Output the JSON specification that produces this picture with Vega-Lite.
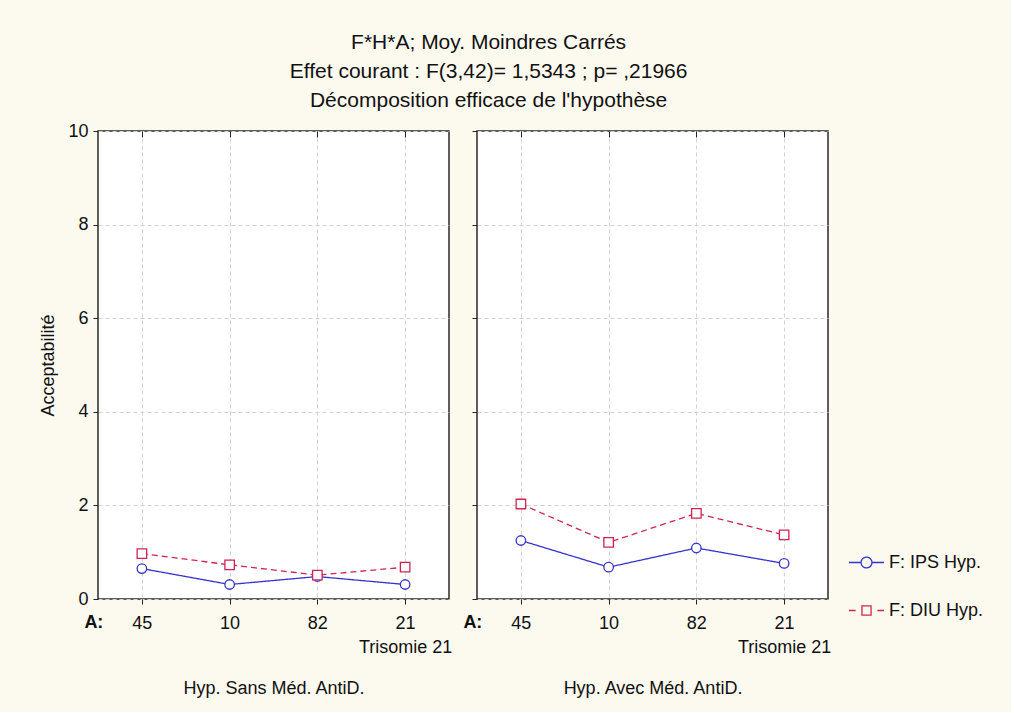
{
  "$schema": "https://vega.github.io/schema/vega-lite/v6.json",
  "background": "#fcf9ee",
  "padding": {"left": 39, "top": 32, "right": 27, "bottom": 14},
  "title": {
    "text": ["F*H*A; Moy. Moindres Carrés", "Effet courant : F(3,42)= 1,5343 ; p= ,21966", "Décomposition efficace de l'hypothèse"],
    "font": "Liberation Sans", "fontSize": 21, "fontWeight": "normal", "lineHeight": 29, "color": "#111", "anchor": "middle", "offset": 10, "dx": -23
  },
  "datasets": {
    "means": [
      {"H": "Sans", "A": "45", "F": "IPS Hyp.", "v": 0.65},
      {"H": "Sans", "A": "10", "F": "IPS Hyp.", "v": 0.31},
      {"H": "Sans", "A": "82", "F": "IPS Hyp.", "v": 0.48},
      {"H": "Sans", "A": "21", "F": "IPS Hyp.", "v": 0.31},
      {"H": "Sans", "A": "45", "F": "DIU Hyp.", "v": 0.97},
      {"H": "Sans", "A": "10", "F": "DIU Hyp.", "v": 0.73},
      {"H": "Sans", "A": "82", "F": "DIU Hyp.", "v": 0.51},
      {"H": "Sans", "A": "21", "F": "DIU Hyp.", "v": 0.68},
      {"H": "Avec", "A": "45", "F": "IPS Hyp.", "v": 1.25},
      {"H": "Avec", "A": "10", "F": "IPS Hyp.", "v": 0.68},
      {"H": "Avec", "A": "82", "F": "IPS Hyp.", "v": 1.09},
      {"H": "Avec", "A": "21", "F": "IPS Hyp.", "v": 0.76},
      {"H": "Avec", "A": "45", "F": "DIU Hyp.", "v": 2.03},
      {"H": "Avec", "A": "10", "F": "DIU Hyp.", "v": 1.21},
      {"H": "Avec", "A": "82", "F": "DIU Hyp.", "v": 1.83},
      {"H": "Avec", "A": "21", "F": "DIU Hyp.", "v": 1.37}
    ],
    "alab": [{"lab": "A:"}]
  },
  "spacing": 9,
  "hconcat": [
    {
      "width": 351, "height": 468,
      "resolve": {"axis": {"x": "independent"}},
      "layer": [
        {
          "data": {"name": "means"},
          "transform": [{"filter": "datum.H == 'Sans'"}],
          "mark": {"type": "line", "strokeWidth": 1.3},
          "encoding": {
            "x": {"field": "A", "type": "nominal", "sort": ["45", "10", "82", "21"],
              "scale": {"type": "point", "padding": 0.5},
              "axis": {"title": "Hyp. Sans Méd.  AntiD.", "labelAngle": 0, "grid": true,
                "labelExpr": "datum.value == '21' ? ['21', 'Trisomie 21'] : datum.value"}},
            "y": {"field": "v", "type": "quantitative", "scale": {"domain": [0, 10], "nice": false},
              "axis": {"title": "Acceptabilité", "values": [0, 2, 4, 6, 8, 10], "grid": true}},
            "color": {"field": "F", "type": "nominal", "sort": ["IPS Hyp.", "DIU Hyp."],
              "scale": {"domain": ["IPS Hyp.", "DIU Hyp."], "range": ["#3434cc", "#d02450"]},
              "legend": {
                "title": null, "orient": "none", "legendX": 750, "legendY": 413,
                "symbolSize": 1225, "symbolStrokeWidth": 1.3, "rowPadding": 20,
                "labelFont": "Liberation Sans", "labelFontSize": 18, "labelColor": "#111", "labelOffset": 4,
                "labelExpr": "'F: ' + datum.label",
                "encode": {"symbols": {"update": {
                  "shape": {"signal": "datum.value == 'IPS Hyp.' ? 'M-1,0H-0.31M0.31,0H1M-0.31,0A0.31,0.31 0 1,1 0.31,0A0.31,0.31 0 1,1 -0.31,0' : 'M-1,0H-0.62M0.62,0H1M-0.26,-0.26H0.26V0.26H-0.26Z'"},
                  "fill": {"value": "transparent"},
                  "strokeDash": {"value": [1, 0]}
                }}}
              }},
            "strokeDash": {"condition": {"test": "datum.F == 'IPS Hyp.'", "value": [1, 0]}, "value": [6, 4]}
          }
        },
        {
          "data": {"name": "means"},
          "transform": [{"filter": "datum.H == 'Sans'"}],
          "mark": {"type": "point", "filled": false, "fill": "white", "strokeWidth": 1.3, "opacity": 1},
          "encoding": {
            "x": {"field": "A", "type": "nominal", "sort": ["45", "10", "82", "21"],
              "axis": {"orient": "top", "labels": false, "title": null, "grid": false, "tickSize": -6}},
            "y": {"field": "v", "type": "quantitative"},
            "color": {"field": "F", "type": "nominal", "legend": null},
            "shape": {"condition": {"test": "datum.F == 'IPS Hyp.'", "value": "circle"}, "value": "square"},
            "size": {"value": 90}
          }
        },
        {
          "data": {"name": "alab"},
          "mark": {"type": "text", "font": "Liberation Sans", "fontSize": 18, "fontWeight": "bold", "color": "#111", "dx": -48, "dy": 24, "baseline": "middle"},
          "encoding": {
            "x": {"datum": "45", "type": "nominal", "axis": null},
            "y": {"datum": 0, "type": "quantitative"},
            "text": {"field": "lab"}
          }
        }
      ]
    },
    {
      "width": 351, "height": 468,
      "resolve": {"axis": {"x": "independent"}},
      "layer": [
        {
          "data": {"name": "means"},
          "transform": [{"filter": "datum.H == 'Avec'"}],
          "mark": {"type": "line", "strokeWidth": 1.3},
          "encoding": {
            "x": {"field": "A", "type": "nominal", "sort": ["45", "10", "82", "21"],
              "scale": {"type": "point", "padding": 0.5},
              "axis": {"title": "Hyp. Avec Méd.  AntiD.", "labelAngle": 0, "grid": true,
                "labelExpr": "datum.value == '21' ? ['21', 'Trisomie 21'] : datum.value"}},
            "y": {"field": "v", "type": "quantitative", "scale": {"domain": [0, 10], "nice": false},
              "axis": {"title": null, "labels": false, "values": [0, 2, 4, 6, 8, 10], "grid": true}},
            "color": {"field": "F", "type": "nominal", "legend": null},
            "strokeDash": {"condition": {"test": "datum.F == 'IPS Hyp.'", "value": [1, 0]}, "value": [6, 4]}
          }
        },
        {
          "data": {"name": "means"},
          "transform": [{"filter": "datum.H == 'Avec'"}],
          "mark": {"type": "point", "filled": false, "fill": "white", "strokeWidth": 1.3, "opacity": 1},
          "encoding": {
            "x": {"field": "A", "type": "nominal", "sort": ["45", "10", "82", "21"],
              "axis": {"orient": "top", "labels": false, "title": null, "grid": false, "tickSize": -6}},
            "y": {"field": "v", "type": "quantitative"},
            "color": {"field": "F", "type": "nominal", "legend": null},
            "shape": {"condition": {"test": "datum.F == 'IPS Hyp.'", "value": "circle"}, "value": "square"},
            "size": {"value": 90}
          }
        },
        {
          "data": {"name": "alab"},
          "mark": {"type": "text", "font": "Liberation Sans", "fontSize": 18, "fontWeight": "bold", "color": "#111", "dx": -48, "dy": 24, "baseline": "middle"},
          "encoding": {
            "x": {"datum": "45", "type": "nominal", "axis": null},
            "y": {"datum": 0, "type": "quantitative"},
            "text": {"field": "lab"}
          }
        }
      ]
    }
  ],
  "resolve": {"scale": {"x": "independent", "y": "independent"}},
  "config": {
    "view": {"fill": "white", "stroke": "#2a2a2a", "strokeWidth": 1.5},
    "axis": {
      "labelFont": "Liberation Sans", "labelFontSize": 18, "labelColor": "#111", "labelLineHeight": 24,
      "titleFont": "Liberation Sans", "titleFontSize": 18, "titleFontWeight": "normal", "titleColor": "#111",
      "domain": false, "tickColor": "#222", "tickSize": 5, "labelPadding": 10,
      "gridColor": "#d2d2d2", "gridDash": [4, 3], "gridWidth": 1
    },
    "axisX": {"titlePadding": 23},
    "axisY": {"titleFontSize": 18, "titlePadding": 10, "labelPadding": 5}
  }
}
